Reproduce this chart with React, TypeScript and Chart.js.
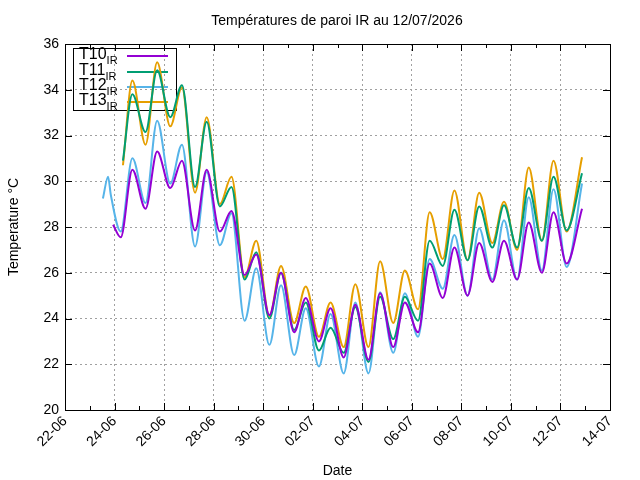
import React, { useEffect, useRef } from "react";
import { Chart, registerables } from "chart.js";
Chart.register(...registerables);

// x = days since 22-06-2026 00:00
const tickLabels = ["22-06","24-06","26-06","28-06","30-06","02-07","04-07","06-07","08-07","10-07","12-07","14-07"];
const TROUGH_OFF = 0.25;
const PEAK_OFF = 0.72;
const FIRST_DAY = 2;

const t10Start = [[1.94, 28.1]];
const t10Troughs = [27.55, 28.8, 29.7, 27.85, 27.8, 25.9, 24.15, 23.4, 23.0, 22.3, 22.2, 22.75, 23.4, 24.9, 25.0, 25.6, 25.7, 26.0, 26.4];
const t10Peaks = [30.5, 31.3, 30.9, 30.5, 28.7, 26.8, 26.0, 24.9, 24.45, 24.6, 25.1, 24.7, 26.4, 27.1, 27.3, 27.4, 28.2, 28.65];
const t10End = [20.87, 28.8];

const t11Start = [[2.34, 30.9]];
const t11Troughs = [null, 32.15, 32.8, 29.75, 28.9, 25.7, 24.0, 23.5, 22.6, 22.5, 22.1, 23.1, 23.9, 26.3, 26.55, 27.1, 27.1, 27.4, 27.85];
const t11Peaks = [33.8, 34.85, 34.2, 32.6, 29.75, 26.9, 26.0, 24.7, 23.6, 24.5, 24.95, 24.95, 27.4, 28.75, 28.9, 28.95, 29.7, 30.2];
const t11End = [20.87, 30.35];

const t12Start = [[1.53, 29.25], [1.74, 30.2], [1.85, 29.4]];
const t12Troughs = [27.8, 29.05, 29.9, 27.15, 27.2, 23.9, 22.85, 22.4, 21.9, 21.6, 21.6, 22.5, 23.2, 25.3, 25.0, 25.7, 25.7, 26.1, 26.25];
const t12Peaks = [31.0, 32.65, 31.6, 30.4, 28.6, 26.2, 25.45, 24.45, 24.2, 24.7, 25.15, 25.1, 26.6, 27.65, 27.95, 28.3, 29.3, 29.65];
const t12End = [20.87, 29.9];

const t13Start = [[2.34, 30.7]];
const t13Troughs = [null, 31.6, 32.4, 29.5, 29.0, 25.8, 24.1, 23.8, 23.2, 22.75, 22.75, 23.8, 24.4, 26.6, 26.55, 27.3, 27.0, 27.4, 27.8];
const t13Peaks = [34.4, 35.2, 34.1, 32.8, 30.2, 27.4, 26.3, 25.4, 24.7, 25.5, 26.5, 26.1, 28.65, 29.6, 29.5, 29.1, 30.6, 30.9];
const t13End = [20.87, 31.05];

function build(start: number[][], troughs: (number | null)[], peaks: number[], end: number[]) {
  const pts: { x: number; y: number }[] = start.map(([x, y]) => ({ x, y }));
  for (let i = 0; i < troughs.length; i++) {
    const d = FIRST_DAY + i;
    const t = troughs[i];
    if (t !== null) pts.push({ x: d + TROUGH_OFF, y: t });
    if (i < peaks.length) pts.push({ x: d + PEAK_OFF, y: peaks[i] });
  }
  pts.push({ x: end[0], y: end[1] });
  return pts.sort((a, b) => a.x - b.x);
}

const series = [
  { name: "T10", color: "#9400d3", data: build(t10Start, t10Troughs, t10Peaks, t10End) },
  { name: "T11", color: "#009e73", data: build(t11Start, t11Troughs, t11Peaks, t11End) },
  { name: "T12", color: "#56b4e9", data: build(t12Start, t12Troughs, t12Peaks, t12End) },
  { name: "T13", color: "#e69f00", data: build(t13Start, t13Troughs, t13Peaks, t13End) },
];

const FONT = "'Liberation Sans', Arial, sans-serif";

export default function App() {
  const ref = useRef<HTMLCanvasElement>(null);
  useEffect(() => {
    document.body.style.margin = "0";
    const overlay = {
      id: "overlay",
      beforeDatasetsDraw(chart: any) {
        const ctx = chart.ctx;
        ctx.save();
        ctx.strokeStyle = "#000";
        ctx.lineWidth = 1;
        ctx.strokeRect(73.5, 48.5, 103, 62);
        const rows = [56, 72, 87, 102];
        series.forEach((s, i) => {
          const y = rows[i];
          ctx.fillStyle = "#000";
          ctx.textAlign = "left";
          ctx.textBaseline = "middle";
          ctx.font = `16px ${FONT}`;
          ctx.fillText(s.name, 79, y - 1);
          const w = ctx.measureText(s.name).width;
          ctx.font = `11px ${FONT}`;
          ctx.fillText("IR", 79 + w, y + 5);
          ctx.strokeStyle = s.color;
          ctx.lineWidth = 2;
          ctx.beginPath();
          ctx.moveTo(127, y); ctx.lineTo(168, y);
          ctx.stroke();
        });
        ctx.restore();
      },
      afterDraw(chart: any) {
        const ctx = chart.ctx;
        const a = chart.chartArea;
        ctx.save();
        ctx.strokeStyle = "#000";
        ctx.lineWidth = 1;
        ctx.strokeRect(a.left + 0.5, a.top + 0.5, a.right - a.left, a.bottom - a.top);
        const xs = chart.scales.x;
        ctx.beginPath();
        for (let d = 0; d <= 22; d++) {
          const px = Math.round(xs.getPixelForValue(d)) + 0.5;
          const len = d % 2 === 0 ? 7 : 4;
          ctx.moveTo(px, a.bottom); ctx.lineTo(px, a.bottom - len);
          ctx.moveTo(px, a.top); ctx.lineTo(px, a.top + len);
        }
        const ys = chart.scales.y;
        for (let v = 20; v <= 36; v += 2) {
          const py = Math.round(ys.getPixelForValue(v)) + 0.5;
          ctx.moveTo(a.left, py); ctx.lineTo(a.left + 7, py);
          ctx.moveTo(a.right, py); ctx.lineTo(a.right - 7, py);
        }
        ctx.stroke();
        ctx.fillStyle = "#000";
        ctx.font = `14px ${FONT}`;
        ctx.textAlign = "center";
        ctx.textBaseline = "middle";
        ctx.fillText("Températures de paroi IR au 12/07/2026", 337, 21);
        ctx.restore();
      },
    };
    const chart = new Chart(ref.current!, {
      type: "line",
      data: {
        datasets: series.map((s) => ({
          label: s.name,
          data: s.data,
          borderColor: s.color,
          backgroundColor: s.color,
          borderWidth: 2,
          pointRadius: 0,
          cubicInterpolationMode: "monotone",
          fill: false,
        })),
      },
      options: {
        responsive: false,
        animation: false,
        layout: { padding: { top: 44, right: 30, left: 6, bottom: 0 } },
        plugins: { legend: { display: false }, title: { display: false }, tooltip: { enabled: false } },
        scales: {
          x: {
            type: "linear",
            min: 0,
            max: 22,
            afterFit: (s: any) => { s.height = 70; },
            ticks: {
              stepSize: 2,
              minRotation: 45,
              maxRotation: 45,
              color: "#000",
              font: { family: FONT, size: 14 },
              callback: (v: any) => tickLabels[Math.round(Number(v) / 2)] ?? "",
            },
            grid: { color: "#a0a0a0", drawTicks: false },
            border: { display: false, dash: [2, 3] },
            title: { display: true, text: "Date", color: "#000", font: { family: FONT, size: 14 }, padding: 0 },
          },
          y: {
            min: 20,
            max: 36,
            afterFit: (s: any) => { s.width = 59; },
            ticks: { stepSize: 2, color: "#000", font: { family: FONT, size: 14 }, padding: 6 },
            grid: { color: "#a0a0a0", drawTicks: false },
            border: { display: false, dash: [2, 3] },
            title: { display: true, text: "Temperature °C", color: "#000", font: { family: FONT, size: 14 }, padding: 0 },
          },
        },
      } as any,
      plugins: [overlay],
    });
    return () => chart.destroy();
  }, []);
  return <canvas ref={ref} width={640} height={480} />;
}
